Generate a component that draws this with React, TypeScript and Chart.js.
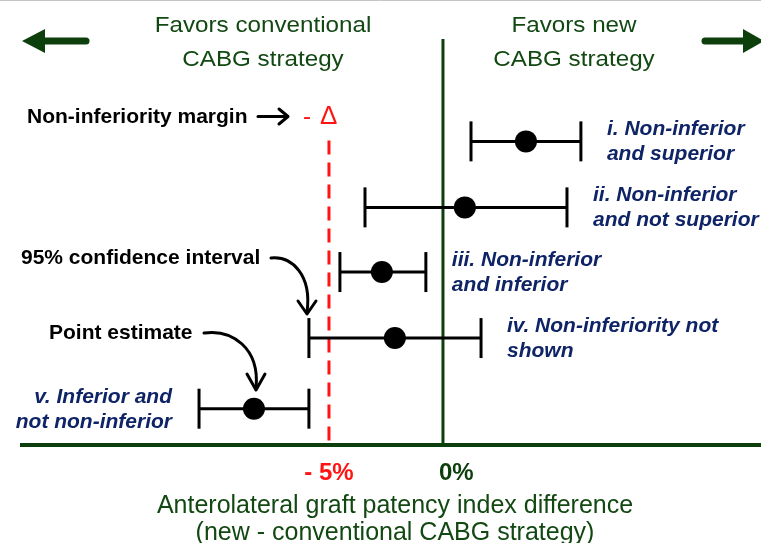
import React, { useEffect, useRef } from "react";
import { Chart, registerables } from "chart.js";

Chart.register(...registerables);

// ---- Data ----
const categoryLine1 = ["i. Non-inferior", "ii. Non-inferior", "iii. Non-inferior", "iv. Non-inferiority not", "v. Inferior and"];
const categoryLine2 = ["and superior", "and not superior", "and inferior", "shown", "not non-inferior"];
const rowPositions = [4.6, 3.6, 2.62, 1.62, 0.55];
const pointEstimates = [3.64, 0.96, -2.68, -2.11, -8.29];
const ciLower = [1.23, -3.42, -4.52, -5.88, -10.7];
const ciUpper = [6.05, 5.44, -0.75, 1.67, -5.88];
const labelSide = ["right", "right", "right", "right", "left"];
const nonInferiorityMargin = -5;
const tickValues = [-5, 0];
const tickLabels = ["- 5%", "0%"];
const titleLeft = ["Favors conventional", "CABG strategy"];
const titleRight = ["Favors new", "CABG strategy"];
const axisTitle = ["Anterolateral graft patency index difference", "(new - conventional CABG strategy)"];

const X_MIN = -19.43;
const X_MAX = 13.95;
const Y_MIN = -1.485;
const Y_MAX = 6.742;

const GREEN = "#0c3f0c";
const TEXT_GREEN = "#124812";
const RED = "#ff1414";
const BLUE = "#0f2466";
const FONT = "'Liberation Sans', Arial, sans-serif";

function drawText(
  ctx: CanvasRenderingContext2D,
  text: string,
  x: number,
  y: number,
  font: string,
  color: string,
  align: CanvasTextAlign = "left",
  sx = 1
) {
  ctx.save();
  ctx.font = font;
  ctx.fillStyle = color;
  ctx.textAlign = align;
  ctx.textBaseline = "alphabetic";
  ctx.translate(x, y);
  ctx.scale(sx, 1);
  ctx.fillText(text, 0, 0);
  ctx.restore();
}

function line(ctx: CanvasRenderingContext2D, x1: number, y1: number, x2: number, y2: number) {
  ctx.beginPath();
  ctx.moveTo(x1, y1);
  ctx.lineTo(x2, y2);
  ctx.stroke();
}

function bigArrow(ctx: CanvasRenderingContext2D, shaftFrom: number, headBase: number, tip: number, y: number) {
  ctx.save();
  ctx.strokeStyle = GREEN;
  ctx.fillStyle = GREEN;
  ctx.lineWidth = 7;
  ctx.lineCap = "round";
  line(ctx, shaftFrom, y, headBase, y);
  ctx.beginPath();
  ctx.moveTo(tip, y);
  ctx.lineTo(headBase, y - 12);
  ctx.lineTo(headBase, y + 12);
  ctx.closePath();
  ctx.fill();
  ctx.restore();
}

const overlay = {
  id: "overlay",
  beforeDatasetsDraw(chart: any) {
    const ctx: CanvasRenderingContext2D = chart.ctx;
    const xs = chart.scales.x;
    const ys = chart.scales.y;
    const x0 = xs.getPixelForValue(0);
    const xm = xs.getPixelForValue(nonInferiorityMargin);
    const yAxis = ys.getPixelForValue(0);
    ctx.save();
    ctx.strokeStyle = "#c4c4c4";
    ctx.lineWidth = 1;
    line(ctx, 0, 0.5, chart.width, 0.5);
    // margin line
    ctx.strokeStyle = RED;
    ctx.lineWidth = 3;
    ctx.setLineDash([14, 8]);
    line(ctx, xm, ys.getPixelForValue(rowPositions[0]) - 1, xm, yAxis);
    ctx.setLineDash([]);
    // zero line
    ctx.strokeStyle = GREEN;
    ctx.lineWidth = 3;
    line(ctx, x0, 39, x0, yAxis);
    // horizontal axis
    ctx.lineWidth = 4;
    line(ctx, 20, yAxis, chart.width, yAxis);
    ctx.restore();
  },
  afterDatasetsDraw(chart: any) {
    const ctx: CanvasRenderingContext2D = chart.ctx;
    const xs = chart.scales.x;
    const ys = chart.scales.y;
    const yAxis = ys.getPixelForValue(0);

    // headers
    const hFont = `22px ${FONT}`;
    drawText(ctx, titleLeft[0], 263, 32, hFont, TEXT_GREEN, "center", 1.1);
    drawText(ctx, titleLeft[1], 263, 66, hFont, TEXT_GREEN, "center", 1.1);
    drawText(ctx, titleRight[0], 574, 32, hFont, TEXT_GREEN, "center", 1.1);
    drawText(ctx, titleRight[1], 574, 66, hFont, TEXT_GREEN, "center", 1.1);
    bigArrow(ctx, 86, 45, 22, 41);
    bigArrow(ctx, 705, 743, 764, 41);

    // annotations
    const bFont = `bold 21px ${FONT}`;
    drawText(ctx, "Non-inferiority margin", 27, 123, bFont, "#000");
    ctx.save();
    ctx.strokeStyle = "#000";
    ctx.lineWidth = 3;
    ctx.lineCap = "round";
    ctx.lineJoin = "round";
    line(ctx, 258, 116.5, 287, 116.5);
    ctx.beginPath();
    ctx.moveTo(279, 109);
    ctx.lineTo(288, 116.5);
    ctx.lineTo(279, 124);
    ctx.stroke();
    ctx.restore();
    drawText(ctx, "-", 303, 124, `24px ${FONT}`, RED);
    drawText(ctx, "Δ", 320, 124, `26px ${FONT}`, RED);

    drawText(ctx, "95% confidence interval", 21, 264, bFont, "#000");
    drawText(ctx, "Point estimate", 49, 339, bFont, "#000");

    ctx.save();
    ctx.strokeStyle = "#000";
    ctx.lineWidth = 3;
    ctx.lineCap = "round";
    ctx.lineJoin = "round";
    ctx.beginPath();
    ctx.moveTo(271, 258);
    ctx.bezierCurveTo(292, 256, 312, 275, 307, 312);
    ctx.stroke();
    ctx.beginPath();
    ctx.moveTo(298, 301);
    ctx.lineTo(307, 314);
    ctx.lineTo(316, 301);
    ctx.stroke();
    ctx.beginPath();
    ctx.moveTo(204, 333);
    ctx.bezierCurveTo(232, 329, 260, 348, 256, 388);
    ctx.stroke();
    ctx.beginPath();
    ctx.moveTo(247, 374);
    ctx.lineTo(256, 390);
    ctx.lineTo(265, 374);
    ctx.stroke();
    ctx.restore();

    // row labels
    const iFont = `italic bold 20px ${FONT}`;
    rowPositions.forEach((r, i) => {
      const y = ys.getPixelForValue(r);
      if (labelSide[i] === "right") {
        const x = xs.getPixelForValue(ciUpper[i]) + 26;
        drawText(ctx, categoryLine1[i], x, y - 6, iFont, BLUE, "left", 1.05);
        drawText(ctx, categoryLine2[i], x, y + 19, iFont, BLUE, "left", 1.05);
      } else {
        const x = xs.getPixelForValue(ciLower[i]) - 27;
        drawText(ctx, categoryLine1[i], x, y - 6, iFont, BLUE, "right", 1.05);
        drawText(ctx, categoryLine2[i], x, y + 19, iFont, BLUE, "right", 1.05);
      }
    });

    // tick labels
    tickValues.forEach((v, i) => {
      const x = xs.getPixelForValue(v);
      if (v === 0) {
        drawText(ctx, tickLabels[i], x - 4, yAxis + 35, `bold 24px ${FONT}`, GREEN, "left");
      } else {
        drawText(ctx, tickLabels[i], x, yAxis + 35, `bold 24px ${FONT}`, RED, "center");
      }
    });

    // axis title
    const tFont = `25px ${FONT}`;
    drawText(ctx, axisTitle[0], 395, yAxis + 68, tFont, TEXT_GREEN, "center");
    drawText(ctx, axisTitle[1], 395, yAxis + 95, tFont, TEXT_GREEN, "center");
  },
};

export default function App() {
  const ref = useRef<HTMLCanvasElement | null>(null);
  useEffect(() => {
    if (!ref.current) return;
    const ciSets = rowPositions.map((r, i) => ({
      type: "line" as const,
      data: [
        { x: ciLower[i], y: r },
        { x: ciUpper[i], y: r },
      ],
      showLine: true,
      borderColor: "#000",
      borderWidth: 3,
      pointStyle: "line" as const,
      rotation: 90,
      pointRadius: 20,
      pointBorderWidth: 3,
      pointBorderColor: "#000",
      pointBackgroundColor: "#000",
      order: 2,
    }));
    const chart = new Chart(ref.current, {
      type: "scatter",
      data: {
        datasets: [
          ...ciSets,
          {
            type: "scatter" as const,
            data: rowPositions.map((r, i) => ({ x: pointEstimates[i], y: r })),
            pointRadius: 11,
            pointBackgroundColor: "#000",
            pointBorderColor: "#000",
            pointBorderWidth: 0,
            order: 1,
          },
        ] as any,
      },
      options: {
        animation: false,
        responsive: false,
        maintainAspectRatio: false,
        layout: { padding: 0, autoPadding: false },
        scales: {
          x: { type: "linear", display: false, min: X_MIN, max: X_MAX },
          y: { type: "linear", display: false, min: Y_MIN, max: Y_MAX },
        },
        plugins: { legend: { display: false }, tooltip: { enabled: false } },
        events: [],
      },
      plugins: [overlay],
    });
    return () => chart.destroy();
  }, []);
  return (
    <div style={{ position: "fixed", left: 0, top: 0, width: 761, height: 543, background: "#fff" }}>
      <canvas ref={ref} width={761} height={543} style={{ display: "block" }} />
    </div>
  );
}
